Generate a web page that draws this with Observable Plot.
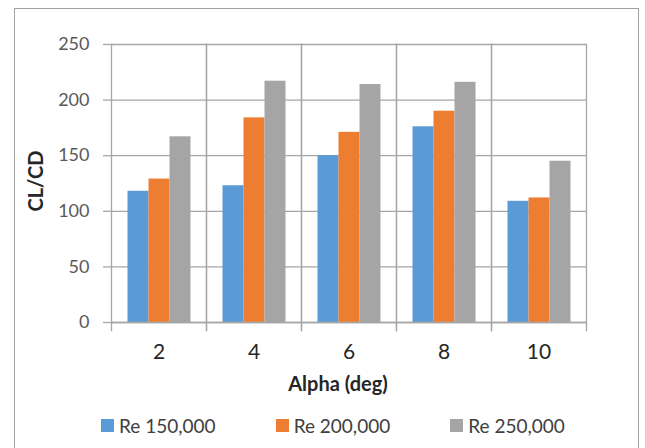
<!DOCTYPE html>
<html>
<head>
<meta charset="utf-8">
<script src="https://cdn.jsdelivr.net/npm/d3@7"></script>
<script src="https://cdn.jsdelivr.net/npm/@observablehq/plot@0.6"></script>
<style>
  html, body { margin: 0; padding: 0; background: #fff; }
  #wrap { position: relative; width: 645px; height: 448px; overflow: hidden; font-family: Lato, "Open Sans", sans-serif; }
  #border { position: absolute; left: 14px; top: 8px; width: 625px; height: 470px; border: 1px solid #a0a0a0; box-sizing: border-box; }
  #chart { position: absolute; left: 0; top: 0; }
  #ytitle { position: absolute; left: 35px; top: 181px; transform: translate(-50%, -50%) rotate(-90deg); font-weight: bold; font-size: 20px; color: #262626; white-space: nowrap; }
  #xtitle { position: absolute; left: 338px; top: 371px; transform: translateX(-50%); font-weight: bold; font-size: 20px; color: #262626; white-space: nowrap; }
  #legend { position: absolute; left: 101px; top: 414px; display: flex; gap: 60px; font-size: 19px; color: #404040; white-space: nowrap; }
  .item { display: flex; align-items: center; }
  .sw { width: 13px; height: 13px; margin-right: 5px; }
</style>
</head>
<body>
<div id="wrap">
  <div id="border"></div>
  <div id="chart"></div>
  <div id="ytitle">CL/CD</div>
  <div id="xtitle">Alpha (deg)</div>
  <div id="legend"></div>
</div>
<script>
const alphas = [2, 4, 6, 8, 10];
const seriesNames = ["Re 150,000", "Re 200,000", "Re 250,000"];
const re150 = [118, 123, 150, 176, 109];
const re200 = [129, 184, 171, 190, 112];
const re250 = [167, 217, 214, 216, 145];
const colors = ["#5b9bd5", "#ed7d31", "#a5a5a5"];
const yTicks = [0, 50, 100, 150, 200, 250];

const seriesValues = [re150, re200, re250];
const data = [];
alphas.forEach((a, i) => {
  seriesNames.forEach((s, j) => data.push({alpha: a, series: s, value: seriesValues[j][i]}));
});

const lineColor = "#a6a6a6";

const chart = Plot.plot({
  width: 645,
  height: 372,
  marginLeft: 110.5,
  marginRight: 59.5,
  marginTop: 44,
  marginBottom: 50,
  style: {fontFamily: "Lato, 'Open Sans', sans-serif", background: "transparent"},
  fx: {domain: alphas, padding: 0},
  x: {domain: seriesNames, paddingInner: 0, paddingOuter: 0.75, axis: null},
  y: {domain: [0, 250], ticks: yTicks},
  color: {domain: seriesNames, range: colors},
  marks: [
    Plot.gridY(yTicks, {stroke: lineColor, strokeOpacity: 1, strokeWidth: 1.3}),
    Plot.barY(data, {fx: "alpha", x: "series", y: "value", fill: "series"}),
    Plot.ruleY([0], {stroke: lineColor, strokeWidth: 1.3}),
    Plot.frame({anchor: "left", stroke: lineColor, strokeWidth: 1.3, insetBottom: -8}),
    Plot.frame({anchor: "right", stroke: lineColor, strokeWidth: 1.3, insetBottom: -8}),
    Plot.axisY(yTicks, {tickSize: 8, tickPadding: 14, fontSize: 18, stroke: lineColor, fill: "#595959", label: null, strokeWidth: 1.3}),
    Plot.axisFx({anchor: "bottom", tickSize: 0, tickPadding: 22, fontSize: 21, fill: "#262626", label: null})
  ]
});
document.getElementById("chart").appendChild(chart);

const legend = document.getElementById("legend");
seriesNames.forEach((s, j) => {
  const item = document.createElement("div");
  item.className = "item";
  const sw = document.createElement("span");
  sw.className = "sw";
  sw.style.background = colors[j];
  const t = document.createElement("span");
  t.textContent = s;
  item.appendChild(sw);
  item.appendChild(t);
  legend.appendChild(item);
});
</script>
</body>
</html>
